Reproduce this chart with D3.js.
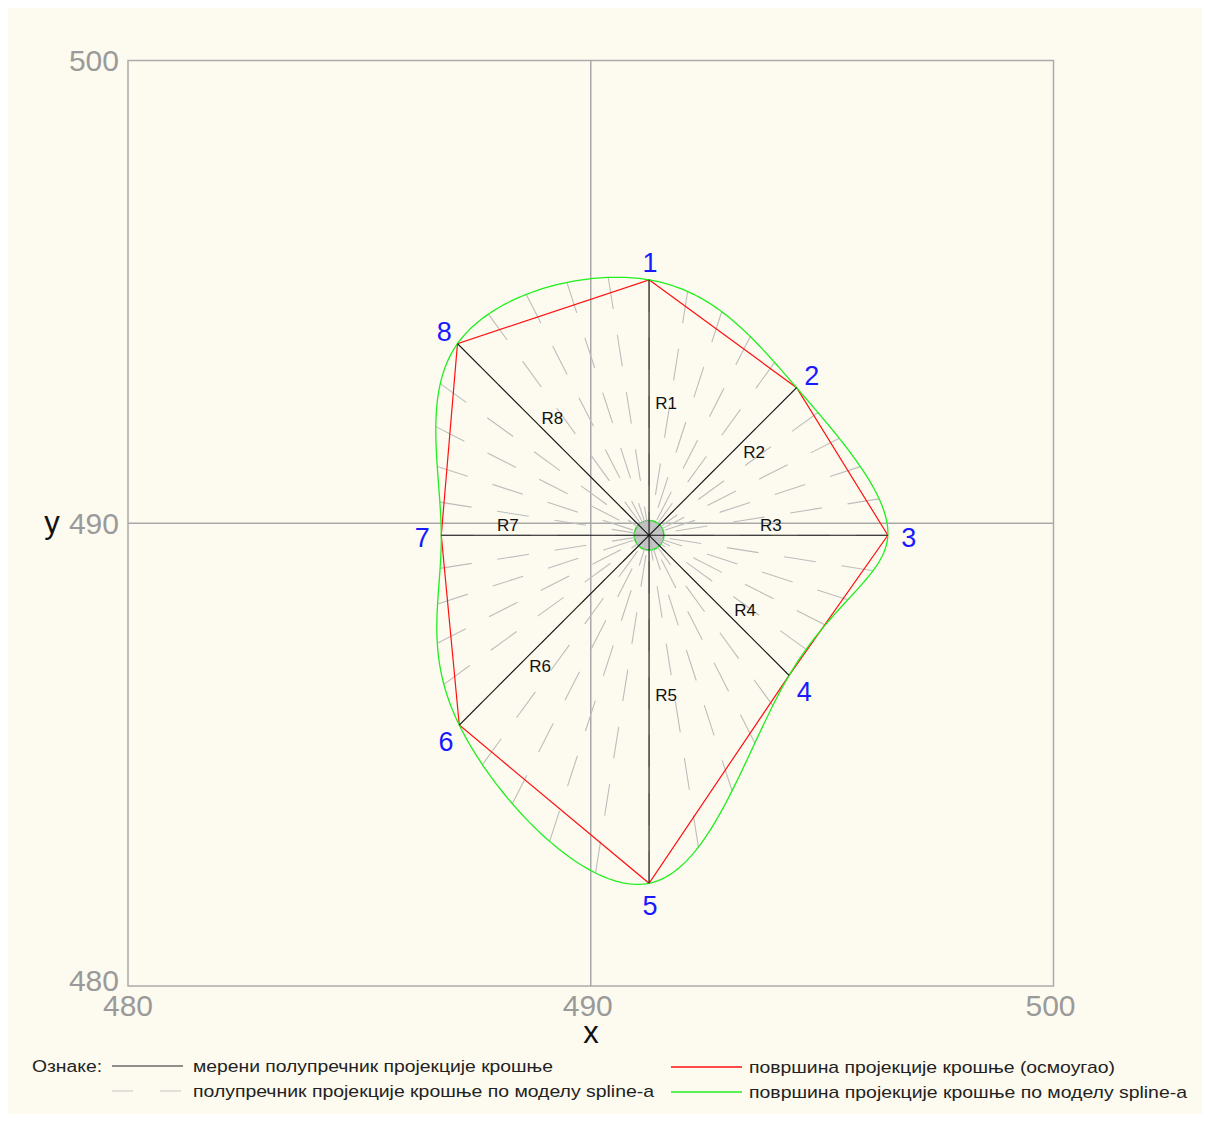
<!DOCTYPE html>
<html><head><meta charset="utf-8">
<script src="https://cdn.jsdelivr.net/npm/d3@7"></script>
<style>html,body{margin:0;padding:0;background:#ffffff;}svg{display:block;}</style>
</head><body>
<script>
// ---- data ----
const center = {x: 491.26, y: 489.74};
const pointLabels = ["1","2","3","4","5","6","7","8"];
const radiusLabels = ["R1","R2","R3","R4","R5","R6","R7","R8"];
const angles = [90, 45, 0, -45, -90, -135, 180, 135];       // degrees
const radii = [5.52, 4.51, 5.16, 4.28, 7.52, 5.80, 4.49, 5.855]; // measured crown radii
const labelT = [0.52, 0.64, 0.51, 0.61, 0.46, 0.63, 0.68, 0.56]; // position of R-labels along radius
const rayStepDeg = 9;
const trunkRadius = 0.32;
const xTicks = [480, 490, 500];
const yTicks = [480, 490, 500];
const legendItems = [
  {text: "мерени полупречник пројекције крошње", type: "radius"},
  {text: "полупречник пројекције крошње по моделу spline-а", type: "ray"},
  {text: "површина пројекције крошње (осмоугао)", type: "poly"},
  {text: "површина пројекције крошње по моделу spline-а", type: "spline"}
];

const W = 1210, H = 1122;
const svg = d3.select("body").append("svg").attr("width", W).attr("height", H);
svg.append("rect").attr("x", 8).attr("y", 8).attr("width", W - 16).attr("height", H - 16).attr("fill", "#fdfaef");

const x = d3.scaleLinear().domain([480, 500]).range([128, 1053.5]);
const y = d3.scaleLinear().domain([480, 500]).range([986, 60.5]);
const FONT = "'Liberation Sans', Arial, sans-serif";

// frame + cross grid
svg.append("rect").attr("x", x(480)).attr("y", y(500)).attr("width", x(500) - x(480)).attr("height", y(480) - y(500))
  .attr("fill", "none").attr("stroke", "#ababab").attr("stroke-width", 1.5);
svg.append("line").attr("x1", x(490)).attr("x2", x(490)).attr("y1", y(480)).attr("y2", y(500)).attr("stroke", "#a8a8a8").attr("stroke-width", 1.5);
svg.append("line").attr("x1", x(480)).attr("x2", x(500)).attr("y1", y(490)).attr("y2", y(490)).attr("stroke", "#a8a8a8").attr("stroke-width", 1.5);

// tick labels
svg.selectAll(".yt").data(yTicks).enter().append("text")
  .attr("x", 119).attr("y", d => Math.min(y(d), y(480) - 6)).attr("dy", "0.36em").attr("text-anchor", "end")
  .attr("font-family", FONT).attr("font-size", 30).attr("fill", "#9a9a9a").text(d => d);
svg.selectAll(".xt").data(xTicks).enter().append("text")
  .attr("x", d => x(d) - (d === 480 ? 0 : 3)).attr("y", 1016).attr("text-anchor", "middle")
  .attr("font-family", FONT).attr("font-size", 30).attr("fill", "#9a9a9a").text(d => d);
svg.append("text").attr("x", 52).attr("y", y(490)).attr("dy", "0.3em").attr("text-anchor", "middle")
  .attr("font-family", FONT).attr("font-size", 31).attr("fill", "#111").text("y");
svg.append("text").attr("x", 591).attr("y", 1043).attr("text-anchor", "middle")
  .attr("font-family", FONT).attr("font-size", 31).attr("fill", "#111").text("x");

// measured points
const pts = radii.map((r, i) => {
  const a = angles[i] * Math.PI / 180;
  return {x: center.x + r * Math.cos(a), y: center.y + r * Math.sin(a)};
});

// periodic cubic spline (uniform parameter) through the points
function periodicTangents(vals) {
  const n = vals.length;
  const A = [], b = [];
  for (let i = 0; i < n; i++) {
    const row = new Array(n).fill(0);
    row[(i - 1 + n) % n] += 1; row[i] += 4; row[(i + 1) % n] += 1;
    A.push(row);
    b.push(3 * (vals[(i + 1) % n] - vals[(i - 1 + n) % n]));
  }
  for (let c = 0; c < n; c++) {
    let p = c;
    for (let r = c + 1; r < n; r++) if (Math.abs(A[r][c]) > Math.abs(A[p][c])) p = r;
    [A[c], A[p]] = [A[p], A[c]]; [b[c], b[p]] = [b[p], b[c]];
    for (let r = c + 1; r < n; r++) {
      const f = A[r][c] / A[c][c];
      for (let k = c; k < n; k++) A[r][k] -= f * A[c][k];
      b[r] -= f * b[c];
    }
  }
  const m = new Array(n).fill(0);
  for (let r = n - 1; r >= 0; r--) {
    let s = b[r];
    for (let k = r + 1; k < n; k++) s -= A[r][k] * m[k];
    m[r] = s / A[r][r];
  }
  return m;
}
const mx = periodicTangents(pts.map(p => p.x));
const my = periodicTangents(pts.map(p => p.y));
const splinePts = [];
const STEPS = 60;
for (let i = 0; i < pts.length; i++) {
  const j = (i + 1) % pts.length;
  for (let s = 0; s < STEPS; s++) {
    const t = s / STEPS, t2 = t * t, t3 = t2 * t;
    const h00 = 2 * t3 - 3 * t2 + 1, h10 = t3 - 2 * t2 + t, h01 = -2 * t3 + 3 * t2, h11 = t3 - t2;
    splinePts.push({
      x: h00 * pts[i].x + h10 * mx[i] + h01 * pts[j].x + h11 * mx[j],
      y: h00 * pts[i].y + h10 * my[i] + h01 * pts[j].y + h11 * my[j]
    });
  }
}

// rays from centre to the spline every rayStepDeg
const polar = splinePts.map(p => ({a: Math.atan2(p.y - center.y, p.x - center.x), r: Math.hypot(p.x - center.x, p.y - center.y)}));
function splineRadiusAt(a) {
  for (let i = 0; i < polar.length; i++) {
    const p = polar[i], q = polar[(i + 1) % polar.length];
    let d = q.a - p.a; if (d > Math.PI) d -= 2 * Math.PI; if (d < -Math.PI) d += 2 * Math.PI;
    let e = a - p.a; if (e > Math.PI) e -= 2 * Math.PI; if (e < -Math.PI) e += 2 * Math.PI;
    if (d !== 0 && e / d >= 0 && e / d <= 1) return p.r + (q.r - p.r) * (e / d);
  }
  return 0;
}
const rayAngles = d3.range(0, 360, rayStepDeg);
const rays = rayAngles.map(deg => {
  const a = deg * Math.PI / 180;
  const r = splineRadiusAt(a);
  return {x: center.x + r * Math.cos(a), y: center.y + r * Math.sin(a)};
});

// trunk circle
svg.append("circle").attr("cx", x(center.x)).attr("cy", y(center.y)).attr("r", x(center.x + trunkRadius) - x(center.x))
  .attr("fill", "#c6c6c6").attr("stroke", "#22dd22").attr("stroke-width", 1.5);

svg.selectAll(".ray").data(rays).enter().append("line")
  .attr("x1", d => x(d.x)).attr("y1", d => y(d.y)).attr("x2", x(center.x)).attr("y2", y(center.y))
  .attr("stroke", "#bdbdbd").attr("stroke-width", 1.1).attr("stroke-dasharray", "32,26");

// octagon
svg.append("path").datum(pts).attr("d", d3.line().x(d => x(d.x)).y(d => y(d.y)).curve(d3.curveLinearClosed))
  .attr("fill", "none").attr("stroke", "#ff1010").attr("stroke-width", 1.2);
// spline
svg.append("path").datum(splinePts).attr("d", d3.line().x(d => x(d.x)).y(d => y(d.y)).curve(d3.curveLinearClosed))
  .attr("fill", "none").attr("stroke", "#1ef01e").attr("stroke-width", 1.3);

// measured radii
svg.selectAll(".rad").data(pts).enter().append("line")
  .attr("x1", x(center.x)).attr("y1", y(center.y)).attr("x2", d => x(d.x)).attr("y2", d => y(d.y))
  .attr("stroke", "#111").attr("stroke-width", 1.1);

// radius labels
svg.selectAll(".rl").data(pts).enter().append("text")
  .attr("font-family", FONT).attr("font-size", 17).attr("fill", "#111")
  .attr("text-anchor", "middle").attr("dy", "0.36em")
  .each(function(d, i) {
    const cx = x(center.x), cy = y(center.y);
    const px = x(d.x), py = y(d.y);
    const dx = px - cx, dy = py - cy, L = Math.hypot(dx, dy);
    const ux = dx / L, uy = dy / L;
    let nx = -uy, ny = ux;
    if (nx < -1e-6 || (Math.abs(nx) < 1e-6 && ny > 0)) { nx = -nx; ny = -ny; }
    const off = 10 + 7 * Math.abs(nx);
    d3.select(this).attr("x", cx + ux * L * labelT[i] + nx * off).attr("y", cy + uy * L * labelT[i] + ny * off);
  })
  .text((d, i) => radiusLabels[i]);

// point numbers
svg.selectAll(".pl").data(pts).enter().append("text")
  .attr("font-family", FONT).attr("font-size", 27).attr("fill", "#1a1aff")
  .attr("text-anchor", "middle").attr("dy", "0.36em")
  .attr("x", (d, i) => x(d.x) + 20 * Math.cos(angles[i] * Math.PI / 180) + 1)
  .attr("y", (d, i) => y(d.y) - 20 * Math.sin(angles[i] * Math.PI / 180) + 2)
  .text((d, i) => pointLabels[i]);

// legend
svg.append("text").attr("x", 32).attr("y", 1072).attr("font-family", FONT).attr("font-size", 16).attr("fill", "#222")
  .attr("textLength", 70).attr("lengthAdjust", "spacingAndGlyphs").text("Ознаке:");
const legPos = [
  {lx: 112, tx: 193, y: 1066, w: 360},
  {lx: 112, tx: 193, y: 1091, w: 461},
  {lx: 671, tx: 749, y: 1067, w: 366},
  {lx: 671, tx: 749, y: 1092, w: 438}
];
const legStyle = {
  radius: {stroke: "#222", dash: null, width: 1.2},
  ray: {stroke: "#c4c4c4", dash: "21,27", width: 1.2},
  poly: {stroke: "#ff1010", dash: null, width: 1.5},
  spline: {stroke: "#22ee22", dash: null, width: 1.5}
};
legendItems.forEach((it, i) => {
  const p = legPos[i], st = legStyle[it.type];
  svg.append("line").attr("x1", p.lx).attr("x2", p.lx + 71).attr("y1", p.y).attr("y2", p.y)
    .attr("stroke", st.stroke).attr("stroke-width", st.width).attr("stroke-dasharray", st.dash);
  svg.append("text").attr("x", p.tx).attr("y", p.y + 6).attr("font-family", FONT).attr("font-size", 17)
    .attr("fill", "#222").attr("textLength", p.w).attr("lengthAdjust", "spacingAndGlyphs").text(it.text);
});
</script>
</body></html>
